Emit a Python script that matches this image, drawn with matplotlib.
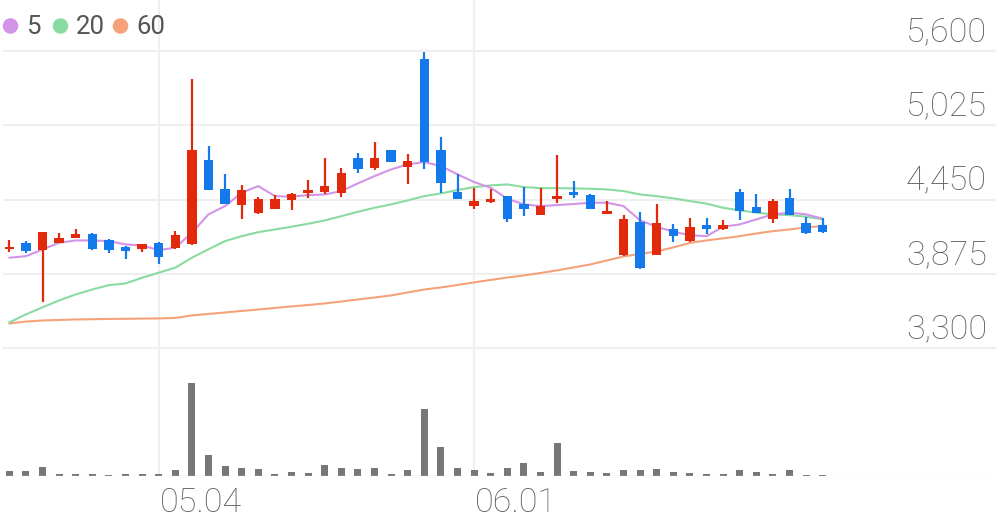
import matplotlib
matplotlib.use('Agg')
import matplotlib.pyplot as plt
from matplotlib.patches import Ellipse

# ---------------- data ----------------
opens  = [4063, 4110, 4058, 4110, 4154, 4180, 4133, 4081, 4063, 4110,
          4077, 4102, 4755, 4528, 4407, 4348, 4379, 4443, 4497, 4507,
          4497, 4774, 4691, 4833, 4701, 5536, 4833, 4507, 4399, 4433,
          4476, 4412, 4329, 4451, 4507, 4487, 4334, 4017, 4275, 4017,
          4224, 4128, 4252, 4224, 4510, 4391, 4296, 4459, 4265, 4252]
highs  = [4135, 4131, 4197, 4193, 4224, 4187, 4141, 4089, 4104, 4120,
          4205, 5386, 4864, 4650, 4559, 4472, 4484, 4503, 4598, 4769,
          4696, 4813, 4898, 4833, 4805, 5592, 4934, 4650, 4541, 4533,
          4476, 4546, 4541, 4794, 4593, 4495, 4438, 4327, 4353, 4418,
          4257, 4309, 4309, 4288, 4528, 4489, 4451, 4533, 4317, 4309]
lows   = [4042, 4038, 3655, 4110, 4149, 4058, 4032, 3986, 4045, 3947,
          4069, 4094, 4523, 4412, 4301, 4335, 4373, 4368, 4459, 4489,
          4472, 4652, 4676, 4740, 4567, 4683, 4503, 4451, 4379, 4420,
          4278, 4321, 4327, 4425, 4459, 4373, 4334, 4011, 3908, 4017,
          4120, 4123, 4180, 4211, 4288, 4342, 4265, 4327, 4180, 4187]
closes = [4084, 4053, 4197, 4149, 4180, 4063, 4056, 4048, 4104, 4007,
          4174, 4833, 4523, 4412, 4523, 4456, 4451, 4495, 4521, 4552,
          4658, 4689, 4774, 4740, 4748, 4743, 4580, 4451, 4438, 4451,
          4296, 4373, 4399, 4480, 4482, 4373, 4360, 4301, 3916, 4270,
          4166, 4239, 4218, 4252, 4360, 4348, 4438, 4327, 4193, 4200]

ma5  = [3999, 4011, 4063, 4115, 4133, 4133, 4128, 4102, 4094, 4058,
        4077, 4193, 4335, 4399, 4503, 4554, 4476, 4472, 4484, 4489,
        4515, 4575, 4631, 4683, 4722, 4740, 4709, 4645, 4585, 4541,
        4456, 4412, 4399, 4407, 4415, 4425, 4425, 4399, 4288, 4239,
        4200, 4174, 4166, 4239, 4257, 4296, 4335, 4348, 4335, 4301]
ma20 = [3498, 3560, 3615, 3668, 3715, 3753, 3787, 3800, 3844, 3883,
        3922, 3999, 4065, 4128, 4166, 4197, 4218, 4239, 4262, 4288,
        4321, 4355, 4386, 4412, 4443, 4476, 4497, 4523, 4546, 4559,
        4567, 4546, 4538, 4538, 4536, 4533, 4528, 4515, 4489, 4476,
        4459, 4438, 4418, 4386, 4366, 4348, 4335, 4329, 4317, 4296]
ma60 = [3490, 3505, 3513, 3517, 3521, 3523, 3525, 3526, 3528, 3529,
        3533, 3552, 3564, 3575, 3587, 3598, 3610, 3622, 3633, 3645,
        3660, 3676, 3691, 3707, 3730, 3753, 3769, 3788, 3808, 3827,
        3846, 3862, 3881, 3901, 3924, 3947, 3978, 4009, 4029, 4048,
        4079, 4114, 4133, 4149, 4166, 4187, 4205, 4218, 4234, 4244]

volume = [4.7, 4.7, 9.3, 2, 2, 1.7, 1, 2, 2, 2,
          6, 93.3, 21, 10.3, 8, 7, 2, 4.3, 3, 11,
          7.7, 7, 8.3, 2, 6.5, 67, 29.3, 7.7, 5.7, 3,
          8, 13, 4, 33.3, 5.3, 4.3, 3.3, 6, 5.7, 6.7,
          4.3, 2.7, 2, 2.3, 6, 3.7, 2.3, 6.3, 1.3, 0.7]

price_ticks = [5600, 5025, 4450, 3875, 3300]
date_tick_idx = [9, 28]
date_tick_labels = ['05.04', '06.01']
ma_labels = ['5', '20', '60']

# ---------------- style ----------------
RED = '#E2290C'
BLUE = '#1479EA'
MA_COLORS = ['#D394E8', '#8ADBA2', '#F5A27A']
GRID = '#efefef'
TEXT = '#5f5f5f'
FONT = 'Roboto'

W, H = 996, 519
fig = plt.figure(figsize=(W / 100, H / 100), dpi=100)
fig.patch.set_facecolor('white')

def fy(py):
    return 1 - py / H

ax = fig.add_axes([0, fy(376), 1, 376 / H])
axv = fig.add_axes([0, fy(476), 1, 100 / H])

step = 16.6
x0 = 9.3
xlim = (-x0 / step, (W - x0) / step)
per_px = (5600 - 3300) / (348 - 51)
ax.set_ylim(5600 - (376 - 51) * per_px, 5600 + 51 * per_px)
ax.set_xlim(*xlim)
axv.set_xlim(*xlim)
axv.set_ylim(0, 100)
for a in (ax, axv):
    a.axis('off')

# grid
for p in price_ticks:
    ax.axhline(p, xmin=4 / W, xmax=1, color=GRID, lw=1.5, zorder=0)
for i in date_tick_idx:
    ax.axvline(i, color=GRID, lw=1.5, zorder=0)
    axv.axvline(i, color=GRID, lw=1.5, zorder=0)

# moving averages
xs = list(range(len(closes)))
for vals, c in zip([ma60, ma20, ma5], MA_COLORS[::-1]):
    ax.plot(xs, vals, color=c, lw=1.5, zorder=2, solid_capstyle='round')

# candles
min_h = 2 * per_px
for i, (o, h, l, c) in enumerate(zip(opens, highs, lows, closes)):
    col = RED if c >= o else BLUE
    ax.vlines(i, l, h, color=col, lw=1.6, zorder=3)
    bot = min(o, c)
    hh = max(abs(c - o), min_h)
    ax.bar(i, hh, bottom=bot, width=0.56, color=col, zorder=4, linewidth=0)

# volume
axv.bar(xs, volume, width=0.42, color='#777777', zorder=2, linewidth=0)
axv.axhline(-0.7, xmin=4 / W, xmax=1, color='#e6e6e6', lw=1.6, zorder=3)

# price labels
for p in price_ticks:
    ax.annotate(f'{p:,}', xy=(1, p), xycoords=('axes fraction', 'data'),
                xytext=(-9, 10), textcoords='offset pixels',
                ha='right', va='baseline', fontsize=24.5, color=TEXT,
                family=FONT, fontweight='light')

# date labels
for i, lab in zip(date_tick_idx, date_tick_labels):
    axv.annotate(lab, xy=(i, 0), xycoords='data', xytext=(1, -36),
                 textcoords='offset pixels', ha='left', va='baseline',
                 fontsize=24.5, color=TEXT, family=FONT, fontweight='light',
                 annotation_clip=False)

# legend
circ_x = [10.5, 60.5, 120.5]
text_x = [26, 76, 136]
for cx, tx, col, lab in zip(circ_x, text_x, MA_COLORS, ma_labels):
    fig.add_artist(Ellipse((cx / W, fy(26)), 15.5 / W, 15.5 / H,
                           transform=fig.transFigure, color=col, lw=0))
    fig.text(tx / W, fy(34.3), lab, ha='left', va='baseline', fontsize=18.5,
             color='#555555', family=FONT, fontweight='normal')

fig.savefig('out.png', dpi=100, facecolor='white')
